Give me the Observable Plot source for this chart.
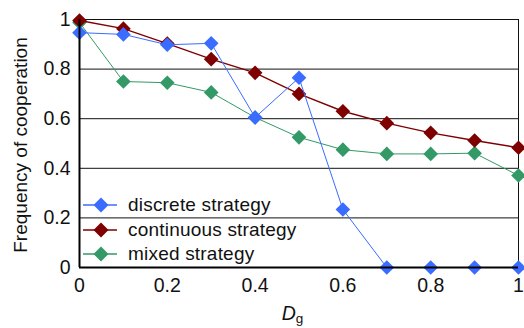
<!DOCTYPE html>
<html>
<head>
<meta charset="utf-8">
<script src="https://cdn.jsdelivr.net/npm/d3@7"></script>
<script src="https://cdn.jsdelivr.net/npm/@observablehq/plot@0.6"></script>
<style>
  html, body { margin: 0; padding: 0; background: #fff; }
  #wrap { position: relative; width: 524px; height: 328px; font-family: "Liberation Sans", Arial, sans-serif; }
  #legend { position: absolute; left: 82px; top: 193px; font-size: 19px; letter-spacing: 0.2px; color: #111; }
  .row { display: flex; align-items: center; height: 24.5px; }
  .row svg { margin-right: 10px; }
</style>
</head>
<body>
<div id="wrap"></div>
<script>
const dg = [0, 0.1, 0.2, 0.3, 0.4, 0.5, 0.6, 0.7, 0.8, 0.9, 1.0];
const discrete   = [0.947, 0.94, 0.898, 0.904, 0.605, 0.765, 0.234, 0, 0, 0, 0];
const continuous = [0.996, 0.963, 0.903, 0.84, 0.785, 0.70, 0.63, 0.582, 0.543, 0.512, 0.483];
const mixed      = [0.988, 0.75, 0.745, 0.706, 0.605, 0.525, 0.475, 0.458, 0.458, 0.461, 0.371];
const seriesNames = ["discrete strategy", "continuous strategy", "mixed strategy"];
const seriesColors = ["#3a6cff", "#7f0000", "#339966"];
const xTicks = [0, 0.2, 0.4, 0.6, 0.8, 1];
const yTicks = [0, 0.2, 0.4, 0.6, 0.8, 1];
const yGrid = [0.2, 0.4, 0.6, 0.8, 1];
const xLabelMain = "D";
const xLabelSub = "g";
const yLabel = "Frequency of cooperation";

const seriesValues = [discrete, continuous, mixed];
const rows = seriesValues.flatMap((vals, i) => vals.map((v, j) => ({series: seriesNames[i], x: dg[j], y: v})));
const order = [2, 1, 0]; // draw mixed, continuous, discrete
const widths = [1, 1.4, 1];

const marks = [
  Plot.ruleY(yGrid, {stroke: "#111", strokeWidth: 1}),
  Plot.ruleX([1], {stroke: "#111", strokeWidth: 1}),
];
for (const i of order) {
  const d = rows.filter(r => r.series === seriesNames[i]);
  marks.push(Plot.line(d, {x: "x", y: "y", stroke: seriesColors[i], strokeWidth: widths[i]}));
  marks.push(Plot.dot(d, {x: "x", y: "y", fill: seriesColors[i], symbol: "diamond2", r: 6.6, stroke: "none"}));
}
marks.push(Plot.ruleX([0], {stroke: "#000", strokeWidth: 2}));
marks.push(Plot.ruleY([0], {stroke: "#000", strokeWidth: 2}));
marks.push(Plot.axisX(xTicks, {tickSize: 0, tickPadding: 11, fontSize: 19.5, label: null, tickFormat: d => String(d)}));
marks.push(Plot.axisY(yTicks, {tickSize: 0, tickPadding: 9, fontSize: 19.5, label: null, tickFormat: d => String(d)}));

const chart = Plot.plot({
  width: 524,
  height: 328,
  marginLeft: 79,
  marginRight: 6,
  marginTop: 19,
  marginBottom: 61,
  x: {domain: [0, 1]},
  y: {domain: [0, 1]},
  style: {fontFamily: "Liberation Sans, Arial, sans-serif", fontSize: "19.5px", color: "#111", background: "#fff", overflow: "visible"},
  marks
});

const svg = d3.select(chart);
svg.selectAll('g[aria-label$="tick label"]').attr("font-size", 19.5).style("font-size", "19.5px");
const xs = chart.scale("x"), ys = chart.scale("y");
// y label
svg.append("text")
  .attr("transform", `translate(27,${(ys.apply(0) + ys.apply(1)) / 2 + 2}) rotate(-90)`)
  .attr("text-anchor", "middle")
  .attr("font-size", 19)
  .attr("fill", "#111")
  .text(yLabel);
// x label with subscript
const xl = svg.append("text")
  .attr("x", xs.apply(0.5) - 6)
  .attr("y", 320)
  .attr("font-size", 19.5)
  .attr("fill", "#111");
xl.append("tspan").attr("font-style", "italic").text(xLabelMain);
xl.append("tspan").attr("font-size", 13.5).attr("dy", 3).text(xLabelSub);

const wrap = document.getElementById("wrap");
wrap.appendChild(chart);

// legend
const legend = document.createElement("div");
legend.id = "legend";
seriesNames.forEach((name, i) => {
  const row = document.createElement("div");
  row.className = "row";
  row.innerHTML = `<svg width="36" height="18"><line x1="1" x2="35" y1="9" y2="9" stroke="${seriesColors[i]}" stroke-width="1.3"/><path d="M19,1.5L26.5,9L19,16.5L11.5,9Z" fill="${seriesColors[i]}"/></svg><span>${name}</span>`;
  legend.appendChild(row);
});
wrap.appendChild(legend);
</script>
</body>
</html>
